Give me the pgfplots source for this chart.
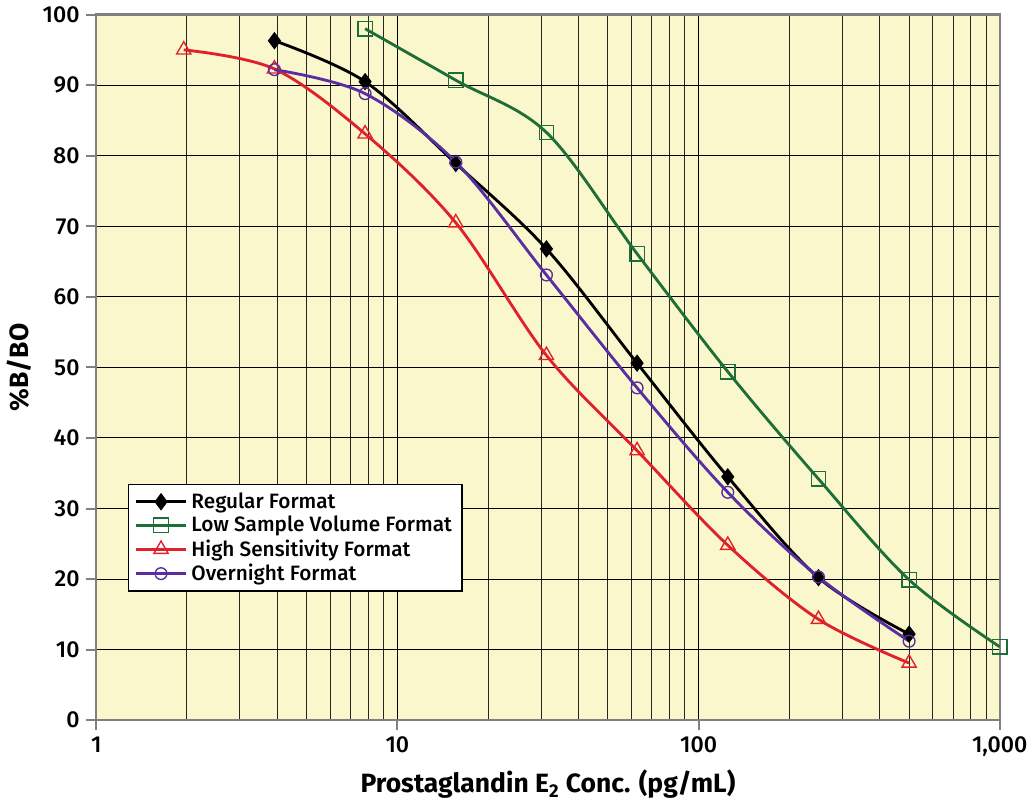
\documentclass[border=0pt]{standalone}
\usepackage{pgfplots}
\pgfplotsset{compat=1.18}
\usepackage{fontspec}
\setmainfont{Fira Sans}
\newfontfamily\medfont{Fira Sans Medium}
\definecolor{bgy}{RGB}{250,247,204}
\definecolor{cgreen}{RGB}{30,110,55}
\definecolor{cred}{RGB}{224,32,42}
\definecolor{cpurp}{RGB}{90,45,160}
\begin{document}
\begin{tikzpicture}
\begin{axis}[
  scale only axis, width=461pt, height=360pt,
  xmode=log, log basis x=10,
  xmin=1, xmax=1000, ymin=0, ymax=100,
  xtick={1,10,100,1000}, xticklabels={1,10,100,{1,000}},
  minor xtick={2,3,4,5,6,7,8,9,20,30,40,50,60,70,80,90,200,300,400,500,600,700,800,900},
  ytick={0,10,...,100},
  minor y tick num=0,
  xmajorgrids, xminorgrids, ymajorgrids,
  grid style={black, line width=0.5pt},
  minor grid style={black!85, line width=0.5pt},
  axis background/.style={fill=bgy},
  axis line style={gray, line width=1.2pt},
  tick align=outside, tickpos=left,
  major tick length=5pt, minor tick length=0pt,
  tick style={gray, line width=1pt},
  ticklabel style={font=\medfont\fontsize{11.8}{13}\selectfont},
  /pgf/number format/assume math mode=true,
  xlabel={\bfseries Prostaglandin E$_{\mathbf 2}$ Conc. (pg/mL)},
  ylabel={\bfseries \%B/BO},
  label style={font=\fontsize{13.5}{15}\selectfont},
  xlabel style={yshift=0pt},
  ylabel style={yshift=-1pt},
  legend style={at={(0.035,0.335)}, anchor=north west, draw=black, line width=0.8pt,
    font=\medfont\fontsize{10.6}{12}\selectfont, fill=white, row sep=-1.5pt, inner xsep=3pt},
  legend cell align=left,
  legend image code/.code={\draw[mark repeat=2,mark phase=2] plot coordinates {(0cm,0cm) (0.45cm,0cm) (0.9cm,0cm)};},
  every axis plot/.append style={line width=1.45pt, smooth, tension=0.55},
]
\addplot[black, mark=diamond*, mark size=4pt, mark options={solid, line width=0.6pt}] coordinates {
 (3.906,96.3) (7.8125,90.5) (15.625,78.9) (31.25,66.8) (62.5,50.6) (125,34.5) (250,20.2) (500,12.2)};
\addlegendentry{Regular Format}
\addplot[cgreen, mark=square, mark size=3.7pt, mark options={solid, line width=0.7pt}] coordinates {
 (7.8125,98.0) (15.625,90.7) (31.25,83.3) (62.5,66.1) (125,49.4) (250,34.2) (500,19.9) (1000,10.4)};
\addlegendentry{Low Sample Volume Format}
\addplot[cred, mark=triangle, mark size=4.2pt, mark options={solid, line width=0.7pt}] coordinates {
 (1.953,95.0) (3.906,92.3) (7.8125,83.1) (15.625,70.5) (31.25,51.7) (62.5,38.2) (125,24.8) (250,14.3) (500,8.1)};
\addlegendentry{High Sensitivity Format}
\addplot[cpurp, mark=o, mark size=3pt, mark options={solid, line width=0.7pt}] coordinates {
 (3.906,92.2) (7.8125,88.8) (15.625,79.1) (31.25,63.1) (62.5,47.1) (125,32.3) (250,20.3) (500,11.2)};
\addlegendentry{Overnight Format}
\end{axis}
\end{tikzpicture}
\end{document}
